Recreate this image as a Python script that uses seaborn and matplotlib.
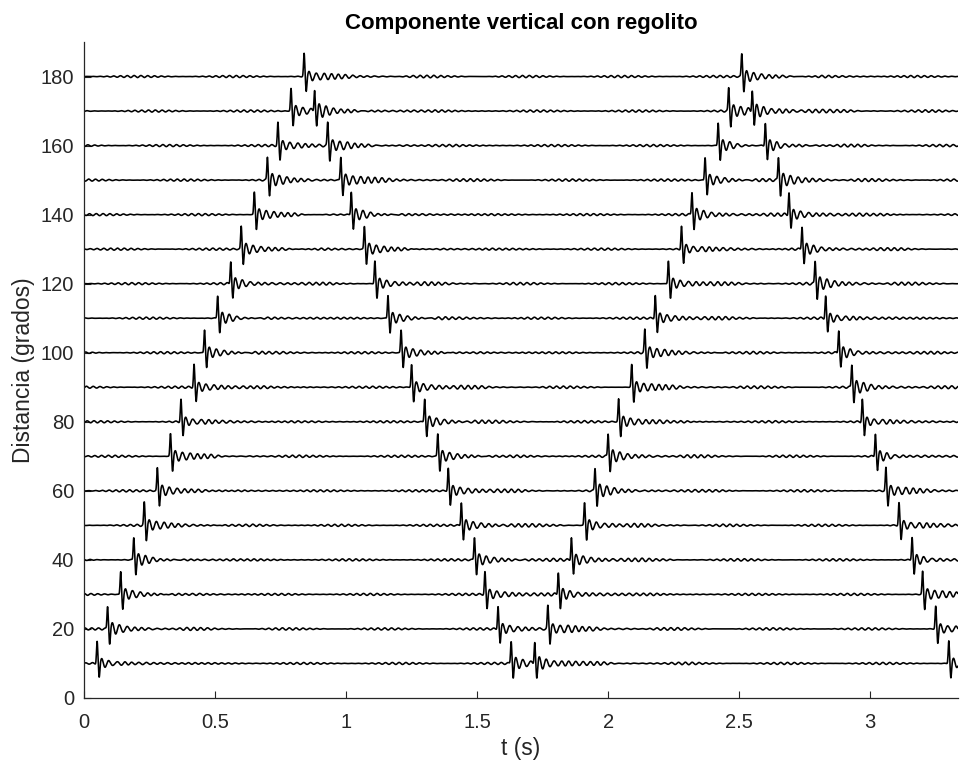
import numpy as np
import pandas as pd
import matplotlib
matplotlib.use("Agg")
import matplotlib.pyplot as plt
import seaborn as sns

# Epicentral distance of each trace (degrees)
distances = [10, 20, 30, 40, 50, 60, 70, 80, 90, 100, 110, 120, 130, 140, 150, 160, 170, 180]

# Arrival times (s) of the four surface passages seen on each trace
t_direct = [0.05, 0.09, 0.14, 0.19, 0.23, 0.28, 0.33, 0.37, 0.42, 0.46,
            0.51, 0.56, 0.60, 0.65, 0.70, 0.74, 0.79, 0.84]
t_antipodal = [1.63, 1.58, 1.53, 1.49, 1.44, 1.39, 1.35, 1.30, 1.25, 1.21,
               1.16, 1.11, 1.07, 1.02, 0.98, 0.93, 0.88, 0.84]
t_second = [1.72, 1.77, 1.81, 1.86, 1.91, 1.95, 2.00, 2.04, 2.09, 2.14,
            2.18, 2.23, 2.28, 2.32, 2.37, 2.42, 2.46, 2.51]
t_second_anti = [3.30, 3.25, 3.20, 3.16, 3.11, 3.06, 3.02, 2.97, 2.93, 2.88,
                 2.83, 2.79, 2.74, 2.69, 2.65, 2.60, 2.55, 2.51]

x_ticks = [0, 0.5, 1, 1.5, 2, 2.5, 3]
x_tick_labels = ["0", "0.5", "1", "1.5", "2", "2.5", "3"]
y_ticks = [0, 20, 40, 60, 80, 100, 120, 140, 160, 180]

T_END = 3.335
dt = 0.0008
t = np.arange(0.0, T_END, dt)


def wavelet(tau):
    """Sharp vertical pulse followed by a ringing regolith coda."""
    spike = 6.6 * np.exp(-((tau) / 0.0032) ** 2) - 4.3 * np.exp(-((tau - 0.008) / 0.0032) ** 2)
    after = tau > 0.012
    s = tau[after] - 0.012
    coda = np.zeros_like(tau)
    coda[after] = ((1.3 * np.exp(-s / 0.05) + 0.45 * np.exp(-s / 0.25))
                   * np.sin(2 * np.pi * s / 0.028 + 0.4 * np.sin(2 * np.pi * s / 0.11)))
    return spike + coda


rows = []
for i, d in enumerate(distances):
    arrivals = sorted(set([t_direct[i], t_antipodal[i], t_second[i], t_second_anti[i]]))
    trace = (0.3 * np.sin(2 * np.pi * t / 0.026 + 0.7 * i)
             * (0.55 + 0.45 * np.sin(2 * np.pi * t / 0.37 + i)))
    for ta in arrivals:
        trace = trace + wavelet(t - ta)
    rows.append(pd.DataFrame({"t": t, "y": d + trace, "dist": d}))
df = pd.concat(rows, ignore_index=True)

sns.set_style("ticks")
plt.rcParams["font.family"] = ["Liberation Sans", "DejaVu Sans"]
grey = "#262626"

fig = plt.figure(figsize=(9.6, 7.72), dpi=100)
ax = fig.add_axes([0.0875, 0.0959, 0.9104, 0.8497])

sns.lineplot(data=df, x="t", y="y", units="dist", estimator=None,
             color="black", linewidth=1.15, ax=ax, legend=False)

ax.set_xlim(0, T_END)
ax.set_ylim(0, 190)
ax.set_xticks(x_ticks)
ax.set_xticklabels(x_tick_labels)
ax.set_yticks(y_ticks)
ax.tick_params(direction="in", length=5, width=0.8, colors=grey, labelsize=14.5)
ax.tick_params(axis="x", pad=11)
ax.tick_params(axis="y", pad=7)
for side in ["top", "right"]:
    ax.spines[side].set_visible(False)
for side in ["left", "bottom"]:
    ax.spines[side].set_color(grey)
    ax.spines[side].set_linewidth(0.9)

ax.set_xlabel("t (s)", fontsize=16.5, color=grey, labelpad=3.5)
ax.set_ylabel("Distancia (grados)", fontsize=16.5, color=grey, labelpad=4)
ax.set_title("Componente vertical con regolito", fontsize=16, fontweight="bold",
             color="black", pad=9)

fig.savefig("out.png", dpi=100)
